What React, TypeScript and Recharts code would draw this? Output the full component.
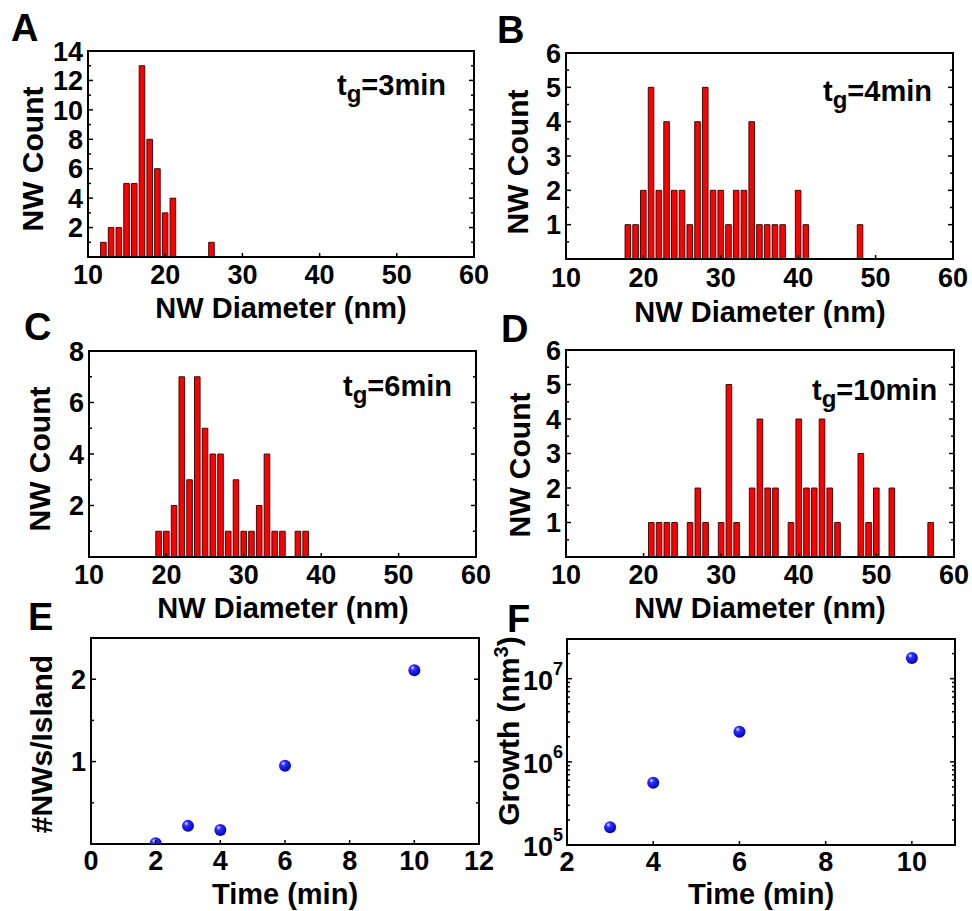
import React from 'react';
import { BarChart, Bar, XAxis, YAxis, ScatterChart, Scatter } from 'recharts';

const FONT = '"Liberation Sans", Arial, Helvetica, sans-serif';

// ---- Panel A : tg = 3 min ----
const diamA = [12, 13, 14, 15, 16, 17, 18, 19, 20, 21, 26];
const countA = [1, 2, 2, 5, 5, 13, 8, 6, 3, 4, 1];
// ---- Panel B : tg = 4 min ----
const diamB = [18, 19, 20, 21, 22, 23, 24, 25, 26, 27, 28, 29, 30, 31, 32, 33, 34, 35, 36, 37, 38, 40, 41, 48];
const countB = [1, 1, 2, 5, 2, 4, 2, 2, 1, 4, 5, 2, 2, 1, 2, 2, 4, 1, 1, 1, 1, 2, 1, 1];
// ---- Panel C : tg = 6 min ----
const diamC = [19, 20, 21, 22, 23, 24, 25, 26, 27, 28, 29, 30, 31, 32, 33, 34, 35, 37, 38];
const countC = [1, 1, 2, 7, 3, 7, 5, 4, 4, 1, 3, 1, 1, 2, 4, 1, 1, 1, 1];
// ---- Panel D : tg = 10 min ----
const diamD = [21, 22, 23, 24, 26, 27, 28, 30, 31, 32, 34, 35, 36, 37, 39, 40, 41, 42, 43, 44, 45, 48, 49, 50, 52, 57];
const countD = [1, 1, 1, 1, 1, 2, 1, 1, 5, 1, 2, 4, 2, 2, 1, 4, 2, 2, 4, 2, 1, 3, 1, 2, 2, 1];
// ---- Panel E ----
const timeE = [2, 3, 4, 6, 10];
const nwPerIsland = [0.01, 0.22, 0.17, 0.95, 2.11];
// ---- Panel F ----
const timeF = [3, 4, 6, 10];
const growth = [164000, 560000, 2300000, 17700000];

// ---- ticks ----
const diamTicks = [10, 20, 30, 40, 50, 60];
const ticksA = [0, 1, 2, 3, 4, 5, 6, 7, 8, 9, 10, 11, 12, 13, 14];
const labelsA = [2, 4, 6, 8, 10, 12, 14];
const ticksBD = [0, 0.5, 1, 1.5, 2, 2.5, 3, 3.5, 4, 4.5, 5, 5.5, 6];
const labelsBD = [1, 2, 3, 4, 5, 6];
const ticksC = [0, 1, 2, 3, 4, 5, 6, 7, 8];
const labelsC = [2, 4, 6, 8];
const timeTicksE = [0, 2, 4, 6, 8, 10, 12];
const ticksE = [0, 0.5, 1, 1.5, 2, 2.5];
const labelsE = [1, 2];
const timeTicksF = [2, 4, 6, 8, 10];
const ticksF = [
  100000, 200000, 300000, 400000, 500000, 600000, 700000, 800000, 900000,
  1000000, 2000000, 3000000, 4000000, 5000000, 6000000, 7000000, 8000000, 9000000,
  10000000, 20000000, 30000000,
];
const labelsF = [100000, 1000000, 10000000];

const ML = 80, MT = 15, MR = 15, MB = 45;
const AX = 1; // axis thickness reserved by recharts
const axisStyle = { stroke: '#000', strokeWidth: 2, strokeLinecap: 'square' as const };
const txt = { fontFamily: FONT, fontWeight: 'bold' as const, fill: '#000' };

const xTick = (dy: number) => (p: any) => {
  const { x, y, payload } = p;
  const v = payload.value;
  return (
    <g>
      <line x1={x} x2={x} y1={y} y2={y - 4} stroke="#000" strokeWidth={1.5} />
      <text x={x} y={y + dy} textAnchor="middle" fontSize={27} {...txt}>{v}</text>
    </g>
  );
};

const yTickL = (labels: number[], log = false) => (p: any) => {
  const { x, y, payload } = p;
  const v = payload.value;
  const major = labels.includes(v);
  let label: any = null;
  if (major) {
    if (log) {
      const e = Math.round(Math.log10(v));
      label = (
        <text x={x - 4} y={y + 11} textAnchor="end" fontSize={27} {...txt}>
          <tspan>10</tspan>
          <tspan dy={-15} fontSize={18}>{e}</tspan>
        </text>
      );
    } else {
      label = (
        <text x={x - 5} y={y} dy="0.36em" textAnchor="end" fontSize={27} {...txt}>{v}</text>
      );
    }
  }
  return (
    <g>
      <line x1={x} x2={x + (major ? 5 : 3)} y1={y} y2={y} stroke="#000" strokeWidth={1.5} />
      {label}
    </g>
  );
};

const yTickR = (labels: number[]) => (p: any) => {
  const { x, y, payload } = p;
  const major = labels.includes(payload.value);
  return <line x1={x} x2={x - (major ? 5 : 3)} y1={y} y2={y} stroke="#000" strokeWidth={1.5} />;
};

type Rect = { l: number; t: number; r: number; b: number };

const chartMargin = { left: ML - AX, top: MT - AX, right: MR - AX, bottom: MB - AX };

function Hist({ rect, diam, count, yMax, yTicks, yLabels, xdy }: any) {
  const data = diam.map((d: number, i: number) => ({ d, c: count[i] }));
  const W = rect.r - rect.l, H = rect.b - rect.t;
  return (
    <div style={{ position: 'absolute', left: rect.l - ML, top: rect.t - MT }}>
      <BarChart width={W + ML + MR} height={H + MT + MB} data={data}
        margin={chartMargin} barSize={5.6}>
        <XAxis dataKey="d" type="number" domain={[10, 60]} ticks={diamTicks} interval={0}
          height={AX} tickSize={0} tickMargin={0} tickLine={false} axisLine={axisStyle}
          tick={xTick(xdy)} allowDataOverflow />
        <XAxis xAxisId="top" orientation="top" type="number" domain={[10, 60]} height={AX}
          tick={false} tickLine={false} axisLine={axisStyle} allowDataOverflow />
        <YAxis type="number" domain={[0, yMax]} ticks={yTicks} interval={0} width={AX}
          tickSize={0} tickMargin={0} tickLine={false} axisLine={axisStyle}
          tick={yTickL(yLabels)} allowDataOverflow />
        <YAxis yAxisId="r" orientation="right" type="number" domain={[0, yMax]} ticks={yTicks}
          interval={0} width={AX} tickSize={0} tickMargin={0} tickLine={false} axisLine={axisStyle}
          tick={yTickR(yLabels)} allowDataOverflow />
        <Bar dataKey="c" fill="#ff0000" stroke="#2a0000" strokeWidth={0.9} isAnimationActive={false} />
      </BarChart>
    </div>
  );
}

const Ball = (p: any) => (
  <circle cx={p.cx} cy={p.cy} r={6} fill="url(#ballGrad)" />
);

function Dots({ rect, times, vals, xDomain, xTicks, yDomain, yTicks, yLabels, log, xdy }: any) {
  const data = times.map((t: number, i: number) => ({ t, v: vals[i] }));
  const W = rect.r - rect.l, H = rect.b - rect.t;
  return (
    <div style={{ position: 'absolute', left: rect.l - ML, top: rect.t - MT }}>
      <ScatterChart width={W + ML + MR} height={H + MT + MB} margin={chartMargin}>
        <XAxis dataKey="t" type="number" domain={xDomain} ticks={xTicks} interval={0}
          height={AX} tickSize={0} tickMargin={0} tickLine={false} axisLine={axisStyle}
          tick={xTick(xdy)} allowDataOverflow />
        <XAxis xAxisId="top" orientation="top" type="number" domain={xDomain} height={AX}
          tick={false} tickLine={false} axisLine={axisStyle} allowDataOverflow />
        <YAxis dataKey="v" type="number" scale={log ? 'log' : 'auto'} domain={yDomain} ticks={yTicks}
          interval={0} width={AX} tickSize={0} tickMargin={0} tickLine={false} axisLine={axisStyle}
          tick={yTickL(yLabels, log)} allowDataOverflow />
        <YAxis yAxisId="r" orientation="right" type="number" scale={log ? 'log' : 'auto'} domain={yDomain}
          ticks={yTicks} interval={0} width={AX} tickSize={0} tickMargin={0} tickLine={false}
          axisLine={axisStyle} tick={yTickR(yLabels)} allowDataOverflow />
        <Scatter data={data} shape={Ball} isAnimationActive={false} />
      </ScatterChart>
    </div>
  );
}

const rA: Rect = { l: 88, t: 51, r: 474, b: 257 };
const rB: Rect = { l: 566, t: 53, r: 953, b: 259 };
const rC: Rect = { l: 89, t: 351, r: 476, b: 557 };
const rD: Rect = { l: 566, t: 350, r: 954, b: 557 };
const rE: Rect = { l: 91, t: 638, r: 479, b: 844 };
const rF: Rect = { l: 567, t: 639, r: 955, b: 845 };

const Tg = ({ x, y, v }: { x: number; y: number; v: string }) => (
  <text x={x} y={y} fontSize={29} {...txt}>
    <tspan>t</tspan>
    <tspan dy={7} fontSize={24}>g</tspan>
    <tspan dy={-7}>{'=' + v}</tspan>
  </text>
);

const YTitle = ({ x, y, children }: any) => (
  <text transform={`translate(${x},${y}) rotate(-90)`} textAnchor="middle" fontSize={30} {...txt}>
    {children}
  </text>
);

export default function App() {
  return (
    <div style={{ position: 'absolute', left: 0, top: 0, width: 972, height: 911, background: '#fff', overflow: 'hidden' }}>
      <Hist rect={rA} diam={diamA} count={countA} yMax={14} yTicks={ticksA} yLabels={labelsA} xdy={27} />
      <Hist rect={rB} diam={diamB} count={countB} yMax={6} yTicks={ticksBD} yLabels={labelsBD} xdy={28} />
      <Hist rect={rC} diam={diamC} count={countC} yMax={8} yTicks={ticksC} yLabels={labelsC} xdy={27} />
      <Hist rect={rD} diam={diamD} count={countD} yMax={6} yTicks={ticksBD} yLabels={labelsBD} xdy={27} />
      <Dots rect={rE} times={timeE} vals={nwPerIsland} xDomain={[0, 12]} xTicks={timeTicksE}
        yDomain={[0, 2.5]} yTicks={ticksE} yLabels={labelsE} log={false} xdy={26} />
      <Dots rect={rF} times={timeF} vals={growth} xDomain={[2, 11]} xTicks={timeTicksF}
        yDomain={[100000, 30000000]} yTicks={ticksF} yLabels={labelsF} log={true} xdy={26} />
      <svg width={972} height={911} style={{ position: 'absolute', left: 0, top: 0, pointerEvents: 'none' }}>
        <defs>
          <radialGradient id="ballGrad" cx="0.4" cy="0.35" r="0.65" fx="0.35" fy="0.3">
            <stop offset="0%" stopColor="#e8e8ff" />
            <stop offset="30%" stopColor="#3030ff" />
            <stop offset="100%" stopColor="#0000b8" />
          </radialGradient>
        </defs>
        <text x={11} y={41} fontSize={38} {...txt}>A</text>
        <text x={497} y={43} fontSize={38} {...txt}>B</text>
        <text x={24} y={340} fontSize={38} {...txt}>C</text>
        <text x={501} y={342} fontSize={38} {...txt}>D</text>
        <text x={28} y={630} fontSize={38} {...txt}>E</text>
        <text x={507} y={632} fontSize={38} {...txt}>F</text>

        <Tg x={337} y={95} v="3min" />
        <Tg x={823} y={101} v="4min" />
        <Tg x={343} y={396} v="6min" />
        <Tg x={812} y={400} v="10min" />

        <text x={281} y={318} textAnchor="middle" fontSize={29} {...txt}>NW Diameter (nm)</text>
        <text x={760} y={322} textAnchor="middle" fontSize={29} {...txt}>NW Diameter (nm)</text>
        <text x={283} y={618} textAnchor="middle" fontSize={29} {...txt}>NW Diameter (nm)</text>
        <text x={760} y={618} textAnchor="middle" fontSize={29} {...txt}>NW Diameter (nm)</text>
        <text x={285} y={904} textAnchor="middle" fontSize={29} {...txt}>Time (min)</text>
        <text x={761} y={904} textAnchor="middle" fontSize={29} {...txt}>Time (min)</text>

        <YTitle x={42.5} y={159}>NW Count</YTitle>
        <YTitle x={528} y={162}>NW Count</YTitle>
        <YTitle x={50} y={459}>NW Count</YTitle>
        <YTitle x={530} y={465}>NW Count</YTitle>
        <YTitle x={51.5} y={744}>#NWs/Island</YTitle>
        <YTitle x={519} y={731}>
          <tspan>Growth (nm</tspan>
          <tspan dy={-11} fontSize={20}>3</tspan>
          <tspan dy={11}>)</tspan>
        </YTitle>
      </svg>
    </div>
  );
}
